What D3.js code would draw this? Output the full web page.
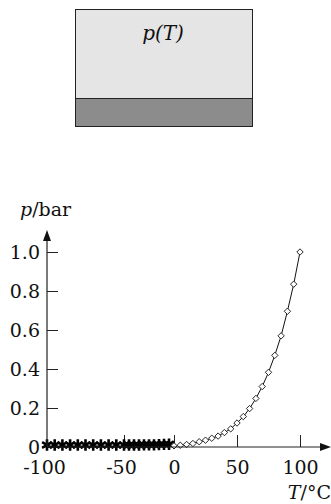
<!DOCTYPE html>
<html>
<head>
<meta charset="utf-8">
<script src="https://cdn.jsdelivr.net/npm/d3@7"></script>
<style>
  body { margin: 0; background: #fff; }
  text { font-family: "DejaVu Serif", serif; fill: #111; }
</style>
</head>
<body>
<div class="chart"></div>
<script>
var svgWidth = 331;
var svgHeight = 504;

// ice (solid markers) and liquid water (open diamonds)
var tempsIce = [-100, -95, -90, -85, -80, -75, -70, -65, -60, -55, -50, -45, -40, -35, -30, -25, -20, -15, -10, -5];
var pIce = [0, 0, 0, 0, 0, 0, 0, 0, 0, 0, 0, 0, 0, 0, 0.001, 0.001, 0.001, 0.002, 0.003, 0.004];
var tempsLiquid = [0, 5, 10, 15, 20, 25, 30, 35, 40, 45, 50, 55, 60, 65, 70, 75, 80, 85, 90, 95, 100];
var pLiquid = [0.006, 0.009, 0.013, 0.018, 0.027, 0.035, 0.045, 0.056, 0.074, 0.093, 0.123, 0.156, 0.197, 0.249, 0.310, 0.383, 0.470, 0.570, 0.696, 0.835, 1.0];

var xTicks = [-100, -50, 0, 50, 100];
var yTicks = [0, 0.2, 0.4, 0.6, 0.8, 1.0];

var svg = d3.select(".chart")
  .append("svg")
  .attr("width", svgWidth)
  .attr("height", svgHeight);

// container sketch on top
svg.append("rect")
  .attr("x", 75.5).attr("y", 9.5)
  .attr("width", 177).attr("height", 89)
  .attr("fill", "#e5e5e5").attr("stroke", "#222");
svg.append("rect")
  .attr("x", 75.5).attr("y", 98.5)
  .attr("width", 177).attr("height", 28)
  .attr("fill", "#8c8c8c").attr("stroke", "#222");
svg.append("text")
  .attr("x", 163).attr("y", 40)
  .attr("text-anchor", "middle")
  .style("font-size", "20px")
  .style("font-style", "italic")
  .text("p(T)");

// scales (negative side drawn compressed like the original)
var xScale = d3.scaleLinear()
  .domain([-100, -50, 0, 100])
  .range([47, 124, 174, 300]);
var yScale = d3.scaleLinear()
  .domain([0, 1])
  .range([447, 252]);

var chart = svg.append("g");

// axes
var leftAxis = d3.axisRight(yScale)
  .tickValues(yTicks)
  .tickSize(11)
  .tickFormat(function(d) { return d === 0 ? "0" : d3.format(".1f")(d); });
var gy = chart.append("g")
  .attr("transform", "translate(47,0)")
  .call(leftAxis);
gy.select(".domain").remove();
gy.selectAll(".tick line").attr("stroke", "#222");
gy.selectAll(".tick text")
  .attr("x", -7)
  .attr("text-anchor", "end")
  .attr("dy", "0.35em")
  .style("font-size", "19px")
  .style("font-family", "DejaVu Serif, serif");

var bottomAxis = d3.axisTop(xScale)
  .tickValues(xTicks)
  .tickSize(12)
  .tickFormat(function(d) { return String(d); });
var gx = chart.append("g")
  .attr("transform", "translate(0,447)")
  .call(bottomAxis);
gx.select(".domain").remove();
gx.selectAll(".tick line").attr("stroke", "#222");
gx.selectAll(".tick").filter(function(d) { return d === -100; }).select("line").remove();
gx.selectAll(".tick text")
  .attr("y", 14)
  .attr("dy", "0.71em")
  .attr("dx", function(d) { return d < 0 ? -3 : 0; })
  .style("font-size", "19px")
  .style("font-family", "DejaVu Serif, serif");

// axis lines with arrows
svg.append("line")
  .attr("x1", 47).attr("y1", 447).attr("x2", 47).attr("y2", 238)
  .attr("stroke", "#222").attr("stroke-width", 1.2);
svg.append("path")
  .attr("d", "M47,230 L51,241 L43,241 Z")
  .attr("fill", "#111");
svg.append("line")
  .attr("x1", 47).attr("y1", 447).attr("x2", 322).attr("y2", 447)
  .attr("stroke", "#222").attr("stroke-width", 1.2);
svg.append("path")
  .attr("d", "M331,447 L320,443 L320,451 Z")
  .attr("fill", "#111");

// axis titles
var yl = svg.append("text")
  .attr("x", 20).attr("y", 216)
  .style("font-size", "19px");
yl.append("tspan").style("font-style", "italic").text("p");
yl.append("tspan").text("/bar");

var xl = svg.append("text")
  .attr("x", 331).attr("y", 499)
  .attr("text-anchor", "end")
  .style("font-size", "19px");
xl.append("tspan").style("font-style", "italic").text("T");
xl.append("tspan").text("/°C");

// data line through all points
var allPts = tempsIce.map(function(t, i) { return [t, pIce[i]]; })
  .concat(tempsLiquid.map(function(t, i) { return [t, pLiquid[i]]; }));
var line = d3.line()
  .x(function(d) { return xScale(d[0]); })
  .y(function(d) { return yScale(d[1]); });
chart.append("path")
  .datum(allPts)
  .attr("d", line)
  .attr("fill", "none")
  .attr("stroke", "#111")
  .attr("stroke-width", 1);

// ice markers
var star = d3.symbol().type(d3.symbolAsterisk).size(90);
chart.selectAll(".ice")
  .data(tempsIce)
  .enter().append("path")
    .attr("class", "ice")
    .attr("d", star)
    .attr("transform", function(d, i) {
      return "translate(" + xScale(d) + "," + (yScale(pIce[i]) - 2) + ")";
    })
    .attr("fill", "none")
    .attr("stroke", "#000")
    .attr("stroke-width", 2.6);

// liquid markers
var diamond = d3.symbol().type(d3.symbolDiamond2).size(26);
chart.selectAll(".liq")
  .data(tempsLiquid)
  .enter().append("path")
    .attr("class", "liq")
    .attr("d", diamond)
    .attr("transform", function(d, i) {
      return "translate(" + xScale(d) + "," + yScale(pLiquid[i]) + ")";
    })
    .attr("fill", "#fff")
    .attr("stroke", "#111")
    .attr("stroke-width", 0.9);
</script>
</body>
</html>
